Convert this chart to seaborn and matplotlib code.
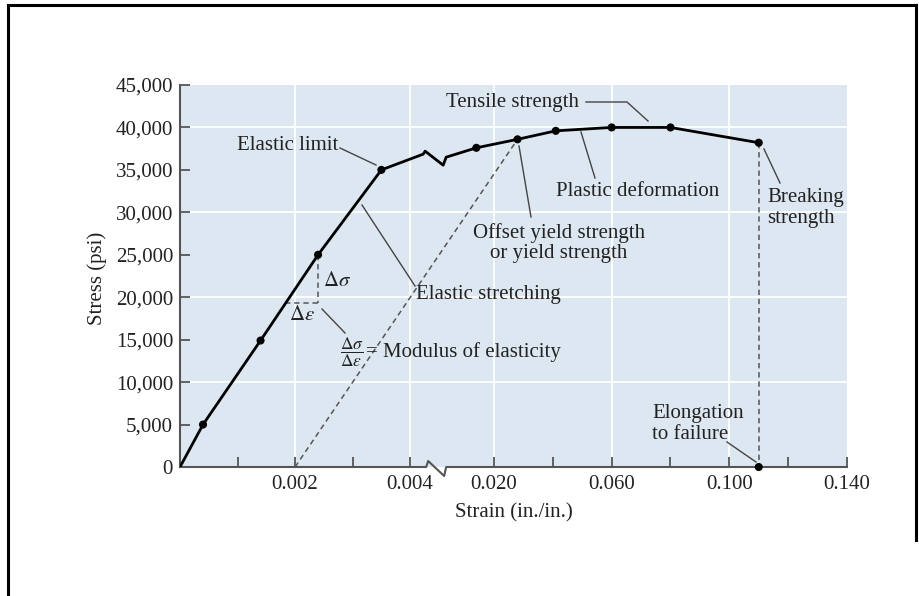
import numpy as np
import matplotlib
matplotlib.use("Agg")
import matplotlib.pyplot as plt
from matplotlib.lines import Line2D
from matplotlib.ticker import FixedLocator, FixedFormatter, StrMethodFormatter
import seaborn as sns

# ---------------- data ----------------
elastic_strain = [0.0, 0.0004, 0.0014, 0.0024, 0.0035]
elastic_stress = [0, 5000, 14900, 25000, 35000]
plastic_strain = [0.014, 0.028, 0.041, 0.060, 0.080, 0.110]
plastic_stress = [37600, 38600, 39600, 40000, 40000, 38200]
offset_strain = 0.002            # 0.2 % offset line start
delta_eps_start = 0.00183        # start of the horizontal Δε dash
delta_level = 19300              # level of the Δε dash
x_ticks = [0.001, 0.002, 0.003, 0.004, 0.020, 0.040, 0.060, 0.080, 0.100, 0.120, 0.140]
x_tick_labels = ["", "0.002", "", "0.004", "0.020", "", "0.060", "", "0.100", "", "0.140"]
y_ticks = [0, 5000, 10000, 15000, 20000, 25000, 30000, 35000, 40000, 45000]
x_grid = [0.002, 0.004, 0.020, 0.060, 0.100]
y_grid = [10000, 20000, 30000, 40000]

# ---------------- style ----------------
plt.rcParams["font.family"] = ["Liberation Serif", "DejaVu Serif"]
plt.rcParams["mathtext.fontset"] = "stix"
FS = 15
TXT = "#222222"
AXC = "#555555"
LEAD = "#444444"
BG = "#dde7f1"

# broken strain axis as a piecewise-linear function scale
UB = 4.435          # break position in scale units
XB = UB / 1000.0    # strain at the break on the fine part
K = 0.05113         # compression of the coarse part


def fwd(x):
    x = np.asarray(x, dtype=float)
    return np.where(x <= XB, x * 1000.0, UB + x * 1000.0 * K)


def inv(u):
    u = np.asarray(u, dtype=float)
    return np.where(u <= UB, u / 1000.0, (u - UB) / (1000.0 * K))


W, H = 919, 596
AX_L, AX_R, AX_T, AX_B = 180, 847, 85, 467
AX_W, AX_H = AX_R - AX_L, AX_B - AX_T

fig = plt.figure(figsize=(W / 100, H / 100), dpi=100)
ax = fig.add_axes([AX_L / W, 1 - AX_B / H, AX_W / W, AX_H / H])
ax.set_xscale("function", functions=(fwd, inv))
ax.set_facecolor(BG)


def P(px, py):
    """reference pixel -> axes fraction"""
    return ((px - AX_L) / AX_W, (AX_B - py) / AX_H)


for gx in x_grid:
    ax.axvline(gx, color="white", lw=1.3, zorder=0.5)
for gy in y_grid:
    ax.axhline(gy, color="white", lw=1.3, zorder=0.5)

# curve
sns.lineplot(x=elastic_strain, y=elastic_stress, ax=ax, color="black", lw=2,
             sort=False, estimator=None, zorder=4)
sns.lineplot(x=plastic_strain, y=plastic_stress, ax=ax, color="black", lw=2,
             sort=False, estimator=None, zorder=4)
sns.scatterplot(x=elastic_strain[1:] + plastic_strain, y=elastic_stress[1:] + plastic_stress,
                ax=ax, color="black", s=34, edgecolor="none", zorder=5)
sns.scatterplot(x=[plastic_strain[-1]], y=[0], ax=ax, color="black", s=34,
                edgecolor="none", zorder=6, clip_on=False)

# dashed guides
dash = dict(color="#555555", lw=1.1, ls=(0, (3.5, 2.5)), zorder=3)
ax.plot([offset_strain, plastic_strain[1]], [0, plastic_stress[1]], **dash)
ax.plot([plastic_strain[-1], plastic_strain[-1]], [plastic_stress[-1], 0], **dash)
ax.plot([elastic_strain[3], elastic_strain[3]], [elastic_stress[3], delta_level], **dash)
ax.plot([delta_eps_start, elastic_strain[3]], [delta_level, delta_level], **dash)

ax.set_xlim(0, 0.140)
ax.set_ylim(0, 45000)

# ticks
ax.xaxis.set_major_locator(FixedLocator(x_ticks))
ax.xaxis.set_major_formatter(FixedFormatter(x_tick_labels))
ax.xaxis.set_minor_locator(FixedLocator([]))
ax.yaxis.set_major_locator(FixedLocator(y_ticks))
ax.yaxis.set_major_formatter(StrMethodFormatter("{x:,.0f}"))
ax.tick_params(axis="both", direction="in", length=7.5, width=1.3, color=AXC,
               labelsize=FS, labelcolor=TXT)
ax.tick_params(axis="y", pad=5)
ax.tick_params(axis="x", pad=5.5)
for s in ["top", "right", "bottom"]:
    ax.spines[s].set_visible(False)
ax.spines["left"].set_color(AXC)
ax.spines["left"].set_linewidth(1.5)

ax.set_xlabel("Strain (in./in.)", fontsize=FS, color=TXT)
ax.set_ylabel("Stress (psi)", fontsize=FS, color=TXT)
ax.xaxis.set_label_coords(0.5, (AX_B - 503) / AX_H)
ax.yaxis.set_label_coords((107 - AX_L) / AX_W, (AX_B - 278) / AX_H)

# ---- break marks (display space) ----
inv_ax = ax.transAxes.inverted()
p1 = ax.transData.transform((elastic_strain[-1], elastic_stress[-1]))
p2 = ax.transData.transform((plastic_strain[0], plastic_stress[0]))
xb = ax.transAxes.transform((UB / float(fwd(0.140)), 0))[0]


def yline(x):
    return p1[1] + (x - p1[0]) * (p2[1] - p1[1]) / (p2[0] - p1[0])


Ly = yline(xb - 12) + 6
cpts = np.array([p1, (xb - 12, Ly), (xb - 10, Ly + 3), (xb + 8, Ly - 11),
                 (xb + 11, Ly - 3), p2])
c = inv_ax.transform(cpts)
ax.plot(c[:, 0], c[:, 1], transform=ax.transAxes, color="black", lw=2, zorder=4)

x0, y0 = ax.transAxes.transform((0, 0))
x1, _ = ax.transAxes.transform((1, 0))
apts = np.array([(x0, y0), (xb - 9, y0), (xb - 7, y0 + 6), (xb + 9, y0 - 9),
                 (xb + 11, y0), (x1, y0)])
a = inv_ax.transform(apts)
ax.plot(a[:, 0], a[:, 1], transform=ax.transAxes, color=AXC, lw=1.5,
        clip_on=False, zorder=3)

# ---- annotations ----
def text(px, py, s, ha="left", size=FS, **kw):
    ax.text(*P(px, py), s, transform=ax.transAxes, ha=ha, va="center",
            fontsize=size, color=TXT, **kw)


def leader(*pts):
    xy = np.array([P(*p) for p in pts])
    ax.plot(xy[:, 0], xy[:, 1], transform=ax.transAxes, color=LEAD, lw=1,
            clip_on=False, zorder=3)


text(446, 102, "Tensile strength")
leader((586, 102), (627, 102), (648, 121))

text(338, 146, "Elastic limit", ha="right")
leader((340, 148), (376, 165))

text(416, 295, "Elastic stretching")
leader((415, 286), (362, 205))

text(556, 191, "Plastic deformation")
leader((595, 178), (581, 132))

text(559, 243, "Offset yield strength\nor yield strength", ha="center",
     multialignment="center", linespacing=1.1)
leader((531, 217), (519, 146))

text(767, 208, "Breaking\nstrength", linespacing=1.1)
leader((780, 183), (764, 149))

text(652, 424, "Elongation\nto failure", linespacing=1.1)
leader((727, 442), (756, 462))

text(323, 282, r"$\Delta\sigma$")
text(289, 315, r"$\Delta\varepsilon$")
leader((322, 309), (345, 333))
text(352, 352, r"$\dfrac{\Delta\sigma}{\Delta\varepsilon}$", ha="center", size=12.5)
text(366, 352, "= Modulus of elasticity")

# ---- frame around the picture ----
bw = 2.2
fig.add_artist(Line2D([8 / W, 8 / W], [0, 1 - 5 / H], transform=fig.transFigure,
                      color="black", lw=bw))
fig.add_artist(Line2D([8 / W, 916 / W], [1 - 5 / H, 1 - 5 / H], transform=fig.transFigure,
                      color="black", lw=bw))
fig.add_artist(Line2D([916 / W, 916 / W], [1 - 540 / H, 1 - 5 / H], transform=fig.transFigure,
                      color="black", lw=bw))

fig.savefig("out.png", dpi=100, facecolor="white")
